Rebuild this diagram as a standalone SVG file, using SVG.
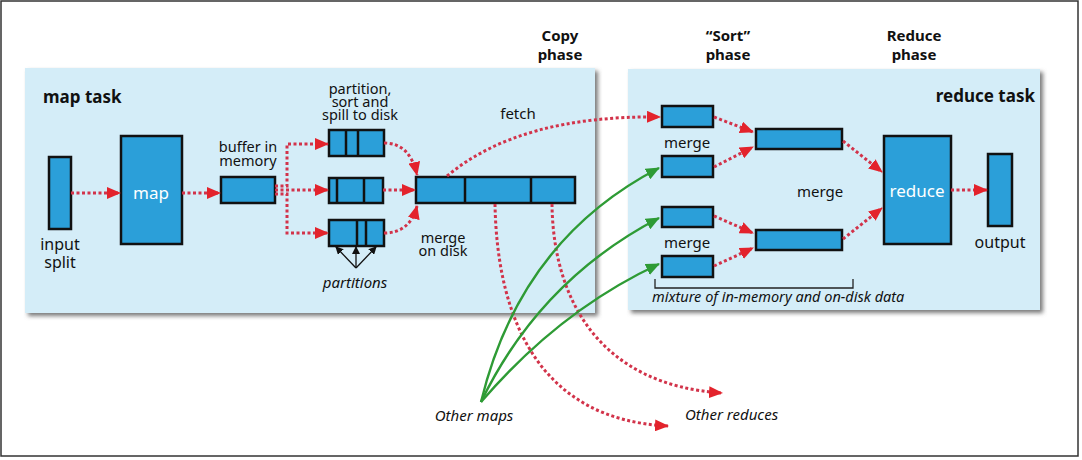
<svg xmlns="http://www.w3.org/2000/svg" width="1082" height="460" viewBox="0 0 1082 460">
<defs>
<style>
.panel{fill:#d4edf8}
.shadow{fill:#7a7a7a;filter:url(#blur)}
.box{fill:#2b9fd9;stroke:#111;stroke-width:2.5}
.div{stroke:#111;stroke-width:2.5}
.red{fill:none;stroke:#d2334a;stroke-width:3;stroke-dasharray:3 2.5;marker-end:url(#ar)}
.green{fill:none;stroke:#2e9b35;stroke-width:2.4;marker-end:url(#ag)}
.blk{fill:none;stroke:#111;stroke-width:1.3;marker-end:url(#ab)}
text{font-family:"Noto Sans","Open Sans",sans-serif;fill:#111;font-size:15px}
.b{font-weight:bold}
.t{font-size:17px;font-weight:bold}
.i{font-style:italic}
.w{fill:#fff;font-size:17px}
.m{text-anchor:middle}
.s{font-size:14.5px}
</style>
<filter id="blur" x="-5%" y="-5%" width="110%" height="110%"><feGaussianBlur stdDeviation="2"/></filter>
<marker id="ar" markerUnits="userSpaceOnUse" markerWidth="14" markerHeight="12" refX="13" refY="6" orient="auto"><path d="M0,0 L14,6 L0,12 z" fill="#e3232c"/></marker>
<marker id="ag" markerUnits="userSpaceOnUse" markerWidth="14" markerHeight="12" refX="13" refY="6" orient="auto"><path d="M0,0 L14,6 L0,12 z" fill="#2e9b35"/></marker>
<marker id="ab" markerUnits="userSpaceOnUse" markerWidth="8" markerHeight="8" refX="7" refY="4" orient="auto"><path d="M0,0 L8,4 L0,8 z" fill="#111"/></marker>
</defs>
<rect x="1" y="1" width="1077" height="455" fill="#fff" stroke="#333" stroke-width="1.5"/>

<g id="map-task-panel">
<rect class="shadow" x="28" y="71" width="570" height="245"/>
<rect class="panel" x="25" y="68" width="570" height="245"/>
<text class="t" x="43" y="103">map task</text>
</g>
<g id="reduce-task-panel">
<rect class="shadow" x="631" y="72" width="412" height="241"/>
<rect class="panel" x="628" y="69" width="412" height="241"/>
<text class="t" x="1035" y="102" text-anchor="end">reduce task</text>
</g>

<g id="phases">
<text class="b m" x="560" y="41">Copy</text>
<text class="b m" x="560" y="60">phase</text>
<text class="b m" x="728" y="41">“Sort”</text>
<text class="b m" x="728" y="60">phase</text>
<text class="b m" x="914" y="41">Reduce</text>
<text class="b m" x="914" y="60">phase</text>
</g>

<g id="input-split">
<rect class="box" x="49" y="157" width="22" height="72"/>
<text class="m" x="60" y="250" style="font-size:16px">input</text>
<text class="m" x="60" y="268" style="font-size:16px">split</text>
</g>
<g id="map">
<rect class="box" x="121" y="136" width="61" height="108"/>
<text class="w m" x="151" y="199">map</text>
</g>
<g id="buffer">
<rect class="box" x="221" y="177" width="54" height="26"/>
<text class="m s" x="248" y="152">buffer in</text>
<text class="m s" x="248" y="166">memory</text>
</g>
<g id="spill-1">
<rect class="box" x="329" y="130" width="55" height="26"/>
<line class="div" x1="346" y1="130" x2="346" y2="156"/>
<line class="div" x1="358" y1="130" x2="358" y2="156"/>
<text class="m s" x="360" y="94">partition,</text>
<text class="m s" x="360" y="107">sort and</text>
<text class="m s" x="360" y="120">spill to disk</text>
</g>
<g id="spill-2">
<rect class="box" x="329" y="178" width="54" height="25"/>
<line class="div" x1="337" y1="178" x2="337" y2="203"/>
<line class="div" x1="364" y1="178" x2="364" y2="203"/>
</g>
<g id="spill-3">
<rect class="box" x="329" y="220" width="55" height="26"/>
<line class="div" x1="357" y1="220" x2="357" y2="246"/>
<line class="div" x1="366" y1="220" x2="366" y2="246"/>
<text class="i m" x="355" y="288">partitions</text>
</g>
<g id="merged">
<rect class="box" x="416" y="177" width="159" height="26"/>
<line class="div" x1="465" y1="177" x2="465" y2="203"/>
<line class="div" x1="531" y1="177" x2="531" y2="203"/>
<text class="m s" x="443" y="243">merge</text>
<text class="m s" x="443" y="256">on disk</text>
<text class="m" x="518" y="119">fetch</text>
</g>

<g id="r-merge-1"><rect class="box" x="662" y="106" width="51" height="21"/></g>
<g id="r-merge-2"><rect class="box" x="662" y="156" width="51" height="21"/></g>
<g id="r-merge-3"><rect class="box" x="662" y="207" width="51" height="20"/></g>
<g id="r-merge-4"><rect class="box" x="662" y="256" width="51" height="21"/></g>
<g id="r-merge-labels">
<text class="m" x="687" y="148">merge</text>
<text class="m" x="687" y="248">merge</text>
<text class="m" x="820" y="197">merge</text>
</g>
<g id="r-mid-1"><rect class="box" x="756" y="129" width="86" height="20"/></g>
<g id="r-mid-2"><rect class="box" x="756" y="230" width="86" height="20"/></g>
<g id="reduce">
<rect class="box" x="884" y="136" width="67" height="108"/>
<text class="w m" x="917" y="197">reduce</text>
</g>
<g id="output">
<rect class="box" x="988" y="154" width="24" height="72"/>
<text class="m" x="1000" y="248" style="font-size:16px">output</text>
</g>
<g id="mixture">
<path d="M655,279 V288 H853 V279" fill="none" stroke="#222" stroke-width="1.3"/>
<text class="i" x="652" y="302" style="font-size:14.5px">mixture of in-memory and on-disk data</text>
</g>
<g id="other-maps"><text class="i m" x="474" y="421">Other maps</text></g>
<g id="other-reduces"><text class="i" x="685" y="420">Other reduces</text></g>

<g id="connectors">
<path class="red" d="M71,193 H120"/>
<path class="red" d="M182,193 H220"/>
<path class="red" d="M275,186 H287 V144 H328"/>
<path class="red" d="M275,190 H328"/>
<path class="red" d="M275,194 H287 V233 H328"/>
<path class="red" d="M384,143 Q410,143 417,175"/>
<path class="red" d="M383,190 H415"/>
<path class="red" d="M384,233 Q410,233 417,206"/>
<path class="red" d="M447,176 Q520,115 660,117"/>
<path class="red" d="M495,204 C497,320 540,420 668,426"/>
<path class="red" d="M552,204 C553,300 600,385 722,393"/>
<path class="red" d="M714,117 L753,132"/>
<path class="red" d="M714,167 L753,147"/>
<path class="red" d="M714,216 L753,233"/>
<path class="red" d="M714,266 L753,248"/>
<path class="red" d="M843,141 L882,172"/>
<path class="red" d="M843,239 L882,208"/>
<path class="red" d="M951,190 H987"/>
<path class="green" d="M481,402 Q520,240 659,168"/>
<path class="green" d="M481,402 Q540,280 659,218"/>
<path class="green" d="M481,402 Q560,310 659,264"/>
<path class="blk" d="M356,268 L336,247"/>
<path class="blk" d="M356,268 L356,247"/>
<path class="blk" d="M356,268 L376,247"/>
</g>
</svg>
